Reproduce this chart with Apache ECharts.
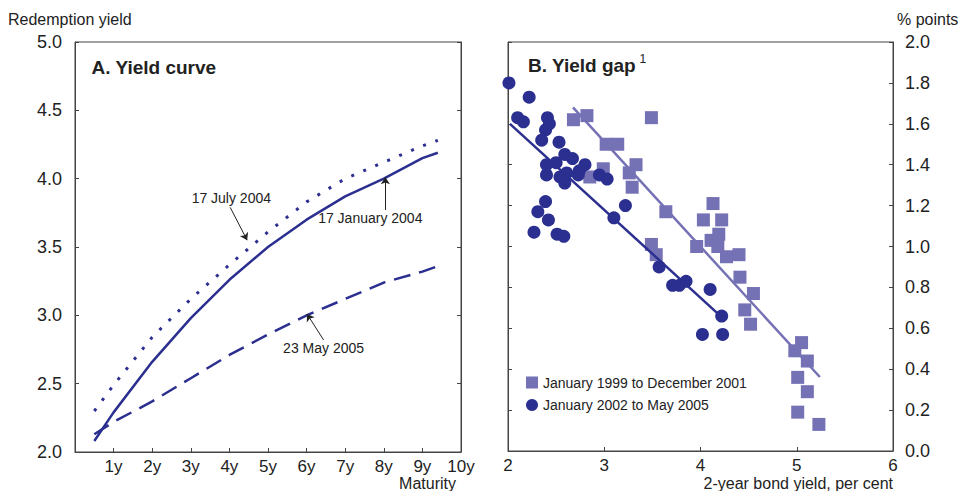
<!DOCTYPE html>
<html>
<head>
<meta charset="utf-8">
<script src="https://cdn.jsdelivr.net/npm/echarts@6/dist/echarts.min.js"></script>
<style>html,body{margin:0;padding:0;background:#fff}#c{width:960px;height:491px}</style>
</head>
<body>
<div id="c"></div>
<script>
// ---- Panel A: yield curves ----
const maturities = [0.5, 1, 2, 3, 4, 5, 6, 7, 8, 9, 9.4];
const jan2004 = [2.08, 2.29, 2.66, 2.98, 3.26, 3.50, 3.70, 3.87, 4.00, 4.15, 4.19];
const jul2004 = [2.30, 2.49, 2.84, 3.12, 3.37, 3.61, 3.83, 4.00, 4.12, 4.24, 4.28];
const may2005 = [2.13, 2.22, 2.37, 2.54, 2.71, 2.86, 3.00, 3.12, 3.24, 3.32, 3.36];
const curveNames = ['17 January 2004', '17 July 2004', '23 May 2005'];
// annotation arrows: [from, to] in data units, text anchor
const annotArrows = [
  [[4.02, 3.79], [4.46, 3.55]],
  [[8.04, 3.77], [8.04, 4.01]],
  [[6.44, 2.82], [6.01, 3.01]]
];
const annotTexts = [
  ['17 July 2004', [4.05, 3.86]],
  ['17 January 2004', [7.65, 3.71]],
  ['23 May 2005', [6.44, 2.76]]
];

// ---- Panel B: yield gap scatter (x = 2-year bond yield, y = % points) ----
const squareName = 'January 1999 to December 2001';
const circleName = 'January 2002 to May 2005';
const squares1999 = [
  [2.68,1.62],[2.82,1.64],[3.49,1.63],[3.02,1.50],[3.14,1.50],[2.99,1.38],[2.85,1.34],
  [3.33,1.40],[3.26,1.36],[3.29,1.29],[3.64,1.17],[3.49,1.01],[3.54,0.96],[3.96,1.00],
  [4.03,1.13],[4.13,1.21],[4.22,1.13],[4.19,1.06],[4.11,1.03],[4.18,1.00],[4.27,0.95],
  [4.40,0.96],[4.41,0.85],[4.55,0.77],[4.46,0.69],[4.52,0.62],[5.05,0.53],[4.98,0.49],
  [5.11,0.44],[5.01,0.36],[5.11,0.29],[5.01,0.19],[5.23,0.13]
];
const circles2002 = [
  [2.01,1.80],[2.22,1.73],[2.10,1.63],[2.16,1.61],[2.41,1.63],[2.43,1.60],[2.39,1.57],
  [2.35,1.52],[2.53,1.51],[2.59,1.45],[2.67,1.43],[2.50,1.41],[2.40,1.40],[2.80,1.40],
  [2.74,1.37],[2.61,1.36],[2.40,1.35],[2.54,1.34],[2.59,1.31],[2.73,1.35],[2.95,1.35],
  [3.03,1.33],[2.39,1.22],[2.31,1.17],[2.42,1.13],[2.27,1.07],[2.51,1.06],[2.58,1.05],
  [3.10,1.14],[3.22,1.20],[3.57,0.90],[3.71,0.81],[3.78,0.81],[3.85,0.83],[4.10,0.79],
  [4.22,0.66],[4.02,0.57],[4.23,0.57]
];
const fit1999 = [[2.675, 1.68], [5.24, 0.362]];
const fit2002 = [[2.02, 1.60], [4.22, 0.655]];

const FONT = "'Liberation Sans', Arial, sans-serif";
const NAVY = '#2b2f8f';
const LILAC = '#7571b5';
const AX = '#444';
const TXT = '#222';

function pairs(xs, ys) { return xs.map((x, i) => [x, ys[i]]); }

const axisBase = {
  axisLine: { show: true, lineStyle: { color: AX, width: 1 } },
  axisTick: { show: true, inside: true, length: 4, lineStyle: { color: AX } },
  splitLine: { show: false }
};

const chart = echarts.init(document.getElementById('c'), null, { renderer: 'svg' });
chart.setOption({
  animation: false,
  backgroundColor: '#fff',
  textStyle: { fontFamily: FONT },
  grid: [
    { left: 75, top: 42, width: 386, height: 410, show: true, borderColor: AX, borderWidth: 1 },
    { left: 508, top: 42, width: 385, height: 409, show: true, borderColor: AX, borderWidth: 1 }
  ],
  xAxis: [
    Object.assign({}, axisBase, {
      gridIndex: 0, type: 'value', min: 0, max: 10, interval: 1,
      axisLabel: { formatter: v => (v === 0 ? '' : v + 'y'), fontSize: 17, lineHeight: 15, color: TXT, margin: 7, fontFamily: FONT }
    }),
    Object.assign({}, axisBase, {
      gridIndex: 1, type: 'value', min: 2, max: 6, interval: 1,
      axisLabel: { fontSize: 17, lineHeight: 15, color: TXT, margin: 7, fontFamily: FONT }
    })
  ],
  yAxis: [
    Object.assign({}, axisBase, {
      gridIndex: 0, type: 'value', position: 'left', min: 2, max: 5, interval: 0.5,
      axisLabel: { formatter: v => v.toFixed(1), fontSize: 18, color: TXT, margin: 13, fontFamily: FONT }
    }),
    Object.assign({}, axisBase, {
      gridIndex: 0, type: 'value', position: 'right', min: 2, max: 5, interval: 0.5,
      axisLabel: { show: false }
    }),
    Object.assign({}, axisBase, {
      gridIndex: 1, type: 'value', position: 'left', min: 0, max: 2, interval: 0.2,
      axisLabel: { show: false }
    }),
    Object.assign({}, axisBase, {
      gridIndex: 1, type: 'value', position: 'right', min: 0, max: 2, interval: 0.2,
      axisLabel: { formatter: v => v.toFixed(1), fontSize: 18, color: TXT, margin: 12, fontFamily: FONT }
    })
  ],
  legend: {
    data: [{ name: squareName, icon: 'rect' }, { name: circleName, icon: 'circle' }],
    orient: 'vertical', left: 526, top: 375.5, padding: 0,
    itemWidth: 12, itemHeight: 12, itemGap: 8.5, selectedMode: false,
    textStyle: { fontSize: 14, color: TXT, lineHeight: 14, fontFamily: FONT }
  },
  graphic: [
    { type: 'text', x: 8, y: 19.5, style: { text: 'Redemption yield', fontSize: 16, fontFamily: FONT, fill: TXT, align: 'left', verticalAlign: 'middle' } },
    { type: 'text', x: 897, y: 19.5, style: { text: '% points', fontSize: 16, fontFamily: FONT, fill: TXT, align: 'left', verticalAlign: 'middle' } },
    { type: 'text', x: 91.5, y: 67, style: { text: 'A. Yield curve', fontSize: 19, fontWeight: 'bold', fontFamily: FONT, fill: TXT, align: 'left', verticalAlign: 'middle' } },
    { type: 'text', x: 528, y: 65.5, style: { text: 'B. Yield gap', fontSize: 19, fontWeight: 'bold', fontFamily: FONT, fill: TXT, align: 'left', verticalAlign: 'middle' } },
    { type: 'text', x: 639.5, y: 59, style: { text: '1', fontSize: 12, fontFamily: FONT, fill: TXT, align: 'left', verticalAlign: 'middle' } },
    { type: 'text', x: 456, y: 483.5, style: { text: 'Maturity', fontSize: 16, lineHeight: 14, fontFamily: FONT, fill: TXT, align: 'right', verticalAlign: 'middle' } },
    { type: 'text', x: 893, y: 483.5, style: { text: '2-year bond yield, per cent', fontSize: 16, lineHeight: 14, fontFamily: FONT, fill: TXT, align: 'right', verticalAlign: 'middle' } }
  ],
  series: [
    {
      name: curveNames[0], type: 'line', xAxisIndex: 0, yAxisIndex: 0,
      data: pairs(maturities, jan2004), symbol: 'none', z: 3,
      lineStyle: { color: NAVY, width: 2.5, type: 'solid' },
      markLine: {
        silent: true, symbol: ['none', 'arrow'], symbolSize: 7, animation: false,
        label: { show: false },
        lineStyle: { color: TXT, width: 1, type: 'solid' },
        data: annotArrows.map(a => [{ coord: a[0] }, { coord: a[1] }])
      },
      markPoint: {
        silent: true, symbol: 'circle', symbolSize: 1, animation: false,
        itemStyle: { color: 'rgba(0,0,0,0)' },
        label: { show: true, position: 'inside', formatter: '{b}', fontSize: 14, color: TXT, fontFamily: FONT },
        data: annotTexts.map(t => ({ name: t[0], coord: t[1] }))
      }
    },
    {
      name: curveNames[1], type: 'line', xAxisIndex: 0, yAxisIndex: 0,
      data: pairs(maturities, jul2004), symbol: 'none', z: 3,
      lineStyle: { color: NAVY, width: 3, type: [3, 10] }
    },
    {
      name: curveNames[2], type: 'line', xAxisIndex: 0, yAxisIndex: 0,
      data: pairs(maturities, may2005), symbol: 'none', z: 3,
      lineStyle: { color: NAVY, width: 2.5, type: [17, 9] }
    },
    {
      name: squareName, type: 'scatter', xAxisIndex: 1, yAxisIndex: 3,
      data: squares1999, symbol: 'rect', symbolSize: 13,
      itemStyle: { color: LILAC, opacity: 1 }
    },
    {
      name: circleName, type: 'scatter', xAxisIndex: 1, yAxisIndex: 3,
      data: circles2002, symbol: 'circle', symbolSize: 13,
      itemStyle: { color: NAVY, opacity: 1 }
    },
    {
      name: 'fit 1999-2001', type: 'line', xAxisIndex: 1, yAxisIndex: 3,
      data: fit1999, symbol: 'none', z: 4,
      lineStyle: { color: LILAC, width: 2.5 }
    },
    {
      name: 'fit 2002-2005', type: 'line', xAxisIndex: 1, yAxisIndex: 3,
      data: fit2002, symbol: 'none', z: 4,
      lineStyle: { color: NAVY, width: 2.5 }
    }
  ]
});
</script>
</body>
</html>
